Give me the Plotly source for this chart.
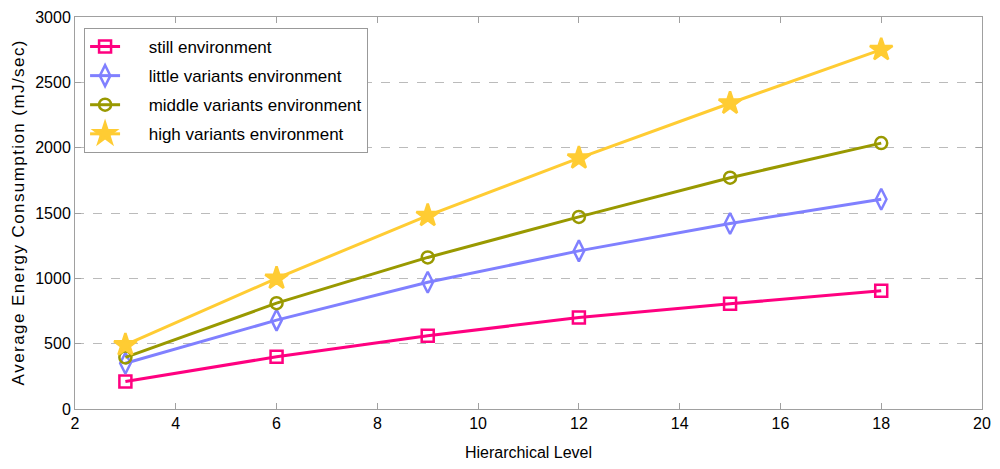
import plotly.graph_objects as go

levels = [3, 6, 9, 12, 15, 18]
still_env = [210, 400, 560, 700, 805, 905]
little_env = [350, 680, 970, 1210, 1420, 1605]
middle_env = [395, 810, 1160, 1470, 1770, 2035]
high_env = [490, 1000, 1480, 1920, 2340, 2750]

names = ["still environment", "little variants environment",
         "middle variants environment", "high variants environment"]
colors = ["#FF0080", "#8080FF", "#999900", "#FFCC33"]
symbols = ["square-open", "diamond-tall-open", "circle-open", "star"]
msizes = [12, 15, 12, 17]

font_name = "Liberation Sans, Arial, sans-serif"

# letter-spaced y title, like the original figure
ytitle = "\u200a".join("Average Energy Consumption (mJ/sec)")
pad = "\u00a0" * 5  # pushes legend text right of the longer line sample

fig = go.Figure()
for i, vals in enumerate([still_env, little_env, middle_env, high_env]):
    fig.add_trace(go.Scatter(
        x=levels, y=vals, name=pad + names[i], mode="lines+markers",
        legendgroup=str(i),
        line=dict(color=colors[i], width=3),
        marker=dict(symbol=symbols[i], size=msizes[i], color=colors[i],
                    line=dict(color=colors[i], width=2.5)),
    ))

# page body has an 8px margin, so the figure is a bit smaller and margins shifted
fig.update_layout(
    width=992, height=461,
    margin=dict(l=67, r=18, t=9, b=60),
    paper_bgcolor="white", plot_bgcolor="white",
    font=dict(family=font_name, size=16, color="black"),
    legend=dict(x=0.01, y=0.972, xanchor="left", yanchor="top",
                bordercolor="#999999", borderwidth=1, bgcolor="white",
                font=dict(size=17), tracegroupgap=4),
    showlegend=True,
)
fig.update_xaxes(
    range=[2, 20], dtick=2, tick0=2, automargin=False,
    showline=True, linecolor="#a0a0a0", linewidth=1, mirror="ticks",
    ticks="inside", ticklen=6, tickcolor="#a0a0a0",
    showgrid=False, zeroline=False,
    title=dict(text="Hierarchical Level", font=dict(size=16), standoff=15),
)
fig.update_yaxes(
    range=[0, 3000], dtick=500, automargin=False,
    showline=True, linecolor="#a0a0a0", linewidth=1, mirror="ticks",
    ticks="inside", ticklen=6, tickcolor="#a0a0a0",
    showgrid=True, gridcolor="#bbbbbb", griddash="dash", gridwidth=1,
    zeroline=False,
    title=dict(text=ytitle, font=dict(size=17), standoff=6),
)
fig.write_html("out.html")
